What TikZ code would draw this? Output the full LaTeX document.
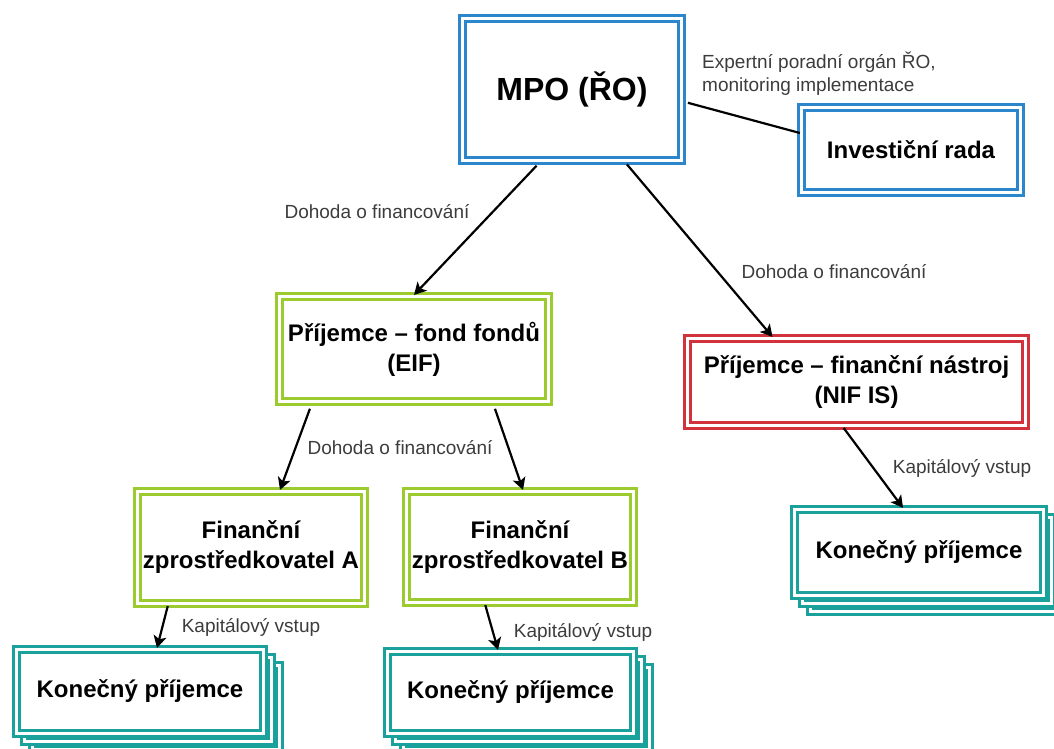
\documentclass[tikz,border=0pt]{standalone}
\usepackage{fontspec}
\setmainfont{Liberation Sans}
\usetikzlibrary{arrows.meta}
\definecolor{mpoblue}{HTML}{2B86CC}
\definecolor{eifgreen}{HTML}{9BCB2E}
\definecolor{nifred}{HTML}{D2323C}
\definecolor{konteal}{HTML}{1AA19B}
\definecolor{labelgray}{HTML}{3C3C3C}
\tikzset{
  framebox/.style={draw=#1, double=white, line width=3.2pt, double distance=2.2pt,
    fill=white, inner sep=0pt, align=center,
    font=\fontsize{24}{30}\selectfont\bfseries},
  flowlabel/.style={inner sep=0pt, text=labelgray, font=\fontsize{19}{23}\selectfont},
  flow/.style={line width=2.2pt, -{Stealth[length=12pt,width=13pt,inset=3pt]}},
}
\begin{document}
\begin{tikzpicture}[x=1pt,y=-1pt]
\useasboundingbox (0,0) rectangle (1054,749);

\node[framebox=mpoblue, minimum width=219pt, minimum height=142pt,
  font=\fontsize{32}{36}\selectfont\bfseries] (mpo) at (572,89.5) {MPO (ŘO)};
\node[framebox=mpoblue, minimum width=219pt, minimum height=85pt] (inv) at (911,150) {Investiční rada};

\node[framebox=eifgreen, minimum width=269pt, minimum height=105pt] (eif) at (414,349) {Příjemce -- fond fondů\\(EIF)};
\node[framebox=nifred, minimum width=338pt, minimum height=87pt] (nif) at (856.5,382) {Příjemce -- finanční nástroj\\(NIF IS)};

\node[framebox=eifgreen, minimum width=227pt, minimum height=112pt] (fina) at (251,547.5) {Finanční\\zprostředkovatel A};
\node[framebox=eifgreen, minimum width=227pt, minimum height=111pt] (finb) at (520,547) {Finanční\\zprostředkovatel B};

\node[framebox=konteal, minimum width=247pt, minimum height=84pt] (kona3) at (156,707.5) {};
\node[framebox=konteal, minimum width=247pt, minimum height=84pt] (kona2) at (148,699.5) {};
\node[framebox=konteal, minimum width=247pt, minimum height=84pt] (kona) at (140,691.5) {Konečný příjemce};

\node[framebox=konteal, minimum width=246pt, minimum height=82pt] (konb3) at (526.5,708.5) {};
\node[framebox=konteal, minimum width=246pt, minimum height=82pt] (konb2) at (518.5,700.5) {};
\node[framebox=konteal, minimum width=246pt, minimum height=82pt] (konb) at (510.5,692.5) {Konečný příjemce};

\node[framebox=konteal, minimum width=249pt, minimum height=86pt] (konc3) at (935,568.5) {};
\node[framebox=konteal, minimum width=249pt, minimum height=86pt] (konc2) at (927,560.5) {};
\node[framebox=konteal, minimum width=249pt, minimum height=86pt] (konc) at (919,552.5) {Konečný příjemce};

\draw[line width=2.2pt, shorten <=5pt] ([yshift=-12pt]mpo.east) -- ([yshift=17pt]inv.west);
\draw[flow, shorten <=5pt] ([xshift=-32pt]mpo.south) -- (eif.north);
\draw[flow, shorten <=3pt] ([xshift=53pt]mpo.south) -- ([xshift=-84pt]nif.north);
\draw[flow, shorten <=6pt] ([xshift=-102pt]eif.south) -- ([xshift=29pt]fina.north);
\draw[flow, shorten <=6pt] ([xshift=79pt]eif.south) -- ([xshift=3pt]finb.north);
\draw[flow, shorten <=1pt] ([xshift=-83pt]fina.south) -- ([xshift=17pt]kona.north);
\draw[flow, shorten <=1pt] ([xshift=-35pt]finb.south) -- ([xshift=-12.5pt]konb.north);
\draw[flow, shorten <=1pt] ([xshift=-13.5pt]nif.south) -- ([xshift=-16pt]konc.north);

\node[flowlabel, anchor=west, align=left] (expert) at (702,73.5) {Expertní poradní orgán ŘO,\\monitoring implementace};
\node[flowlabel] (dohodaeif) at (377,212) {Dohoda o financování};
\node[flowlabel] (dohodanif) at (834,272) {Dohoda o financování};
\node[flowlabel] (dohodafin) at (400,448) {Dohoda o financování};
\node[flowlabel] (kapitala) at (251,627) {Kapitálový vstup};
\node[flowlabel] (kapitalb) at (583,632) {Kapitálový vstup};
\node[flowlabel] (kapitalc) at (962,468) {Kapitálový vstup};
\end{tikzpicture}
\end{document}
